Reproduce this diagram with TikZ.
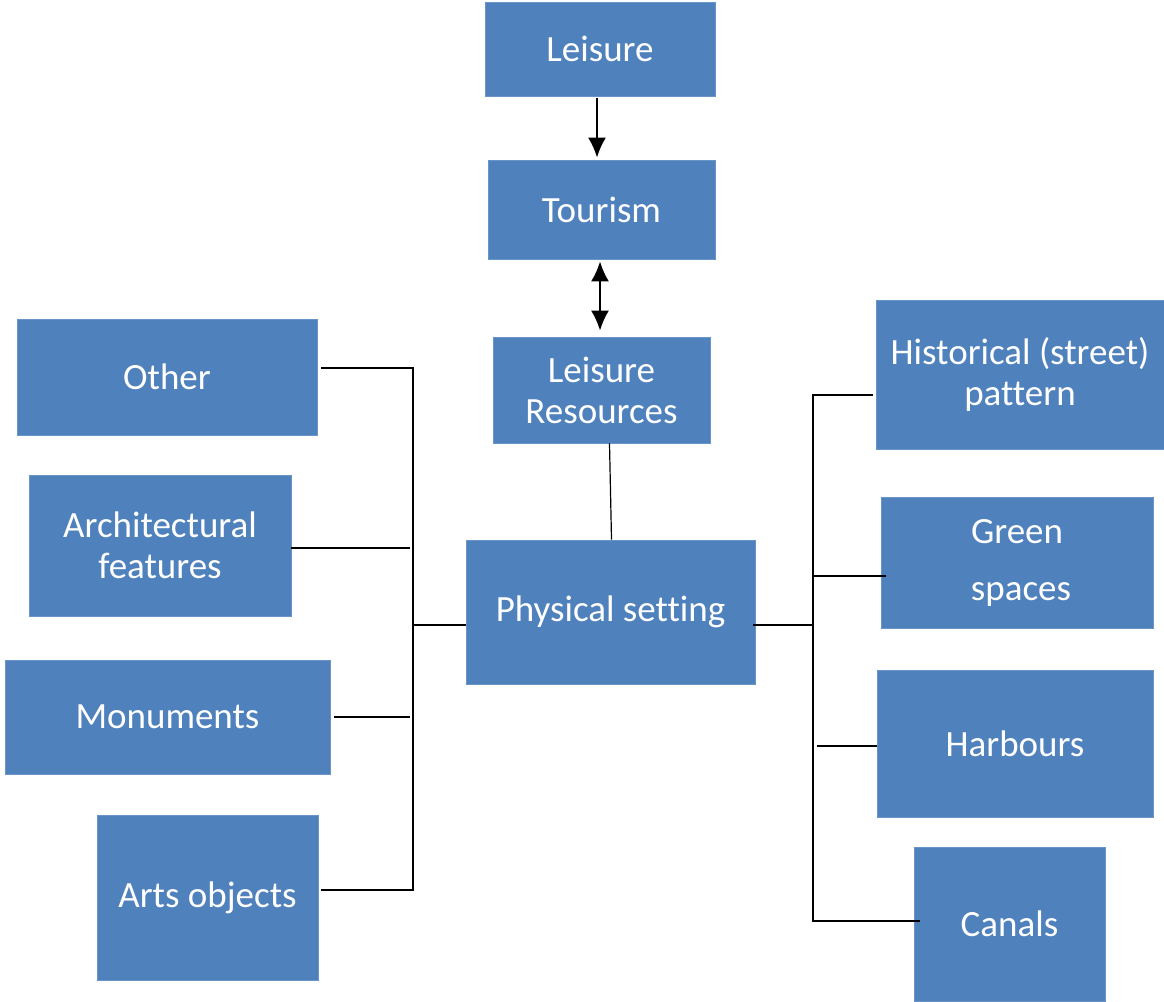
\documentclass[tikz,border=0pt]{standalone}
\usepackage{fontspec}
\setmainfont{Carlito}[Ligatures={NoCommon}]
\usetikzlibrary{arrows.meta}
\definecolor{boxblue}{HTML}{4F81BD}
\begin{document}
\begin{tikzpicture}[x=1pt,y=-1pt,
  box/.style={fill=boxblue, draw=boxblue!85!white, line width=0.8pt, text=white,
    font=\fontsize{37}{41}\selectfont, align=center, inner sep=0pt},
  conn/.style={line width=1.6pt, black},
  tip/.style={-{Latex[length=20pt,width=18pt]}},
  dtip/.style={{Latex[length=20pt,width=18pt]}-{Latex[length=20pt,width=18pt]}}]
\useasboundingbox (0,0) rectangle (1164,1001);
\newcommand\bx[6]{\node[box, minimum width={(#4-#2)*1pt}, minimum height={(#5-#3)*1pt}]
  (#1) at ({(#2+#4)/2},{(#3+#5)/2}) {#6};}
\bx{leisure}{485}{2}{715}{96}{Leisure}
\bx{tourism}{488}{160}{715}{259}{Tourism}
\bx{lres}{493}{337}{710}{443}{Leisure\\Resources}
\bx{phys}{466}{540}{755}{684}{Physical setting}
\bx{other}{17}{319}{317}{435}{Other}
\bx{arch}{29}{475}{291}{616}{Architectural\\features}
\bx{monu}{5}{660}{330}{774}{Monuments}
\bx{arts}{97}{815}{318}{980}{Arts objects}
\bx{hist}{876}{300}{1164}{449}{Historical (street)\\pattern}
\bx{green}{881}{497}{1153}{628}{Green\\[16pt]\hspace*{8pt}spaces}
\bx{harb}{877}{670}{1153}{817}{Harbours}
\bx{canal}{914}{847}{1105}{1001}{Canals}
% bus coordinates
\coordinate (lb1) at (413,368);
\coordinate (lb5) at (413,890);
\coordinate (lbm) at (413,625);
\coordinate (rb1) at (813,395);
\coordinate (rb4) at (813,921);
\coordinate (rbm) at (813,625);
% arrows
\draw[conn,line width=2pt,tip] ([xshift=-3pt,yshift=-2pt]leisure.south) -- ([xshift=-4.5pt,yshift=2pt]tourism.north);
\draw[conn,line width=2pt,dtip] ([xshift=-1.5pt,yshift=-2pt]tourism.south) -- ([xshift=-1.5pt,yshift=6pt]lres.north);
\draw[conn,line width=1.2pt] ([xshift=8pt]lres.south) -- ([xshift=1pt]phys.north);
% left bus
\draw[conn] ([xshift=4pt]other.east |- lb1) -- (lb1) -- (lb5) -- ([xshift=3pt]arts.east |- lb5);
\draw[conn] (arch.east |- 0,548) -- (410,548);
\draw[conn] (lbm) -- (phys.west |- lbm);
\draw[conn] ([xshift=4pt]monu.east |- 0,717) -- (410,717);
% right bus
\draw[conn] ([xshift=-3pt]hist.west |- rb1) -- (rb1) -- (rb4) -- ([xshift=6pt]canal.west |- rb4);
\draw[conn] (813,576) -- ([xshift=5pt]green.west |- 0,576);
\draw[conn] ([xshift=-2pt]phys.east |- rbm) -- (rbm);
\draw[conn] (817,746) -- (harb.west |- 0,746);
\end{tikzpicture}
\end{document}
